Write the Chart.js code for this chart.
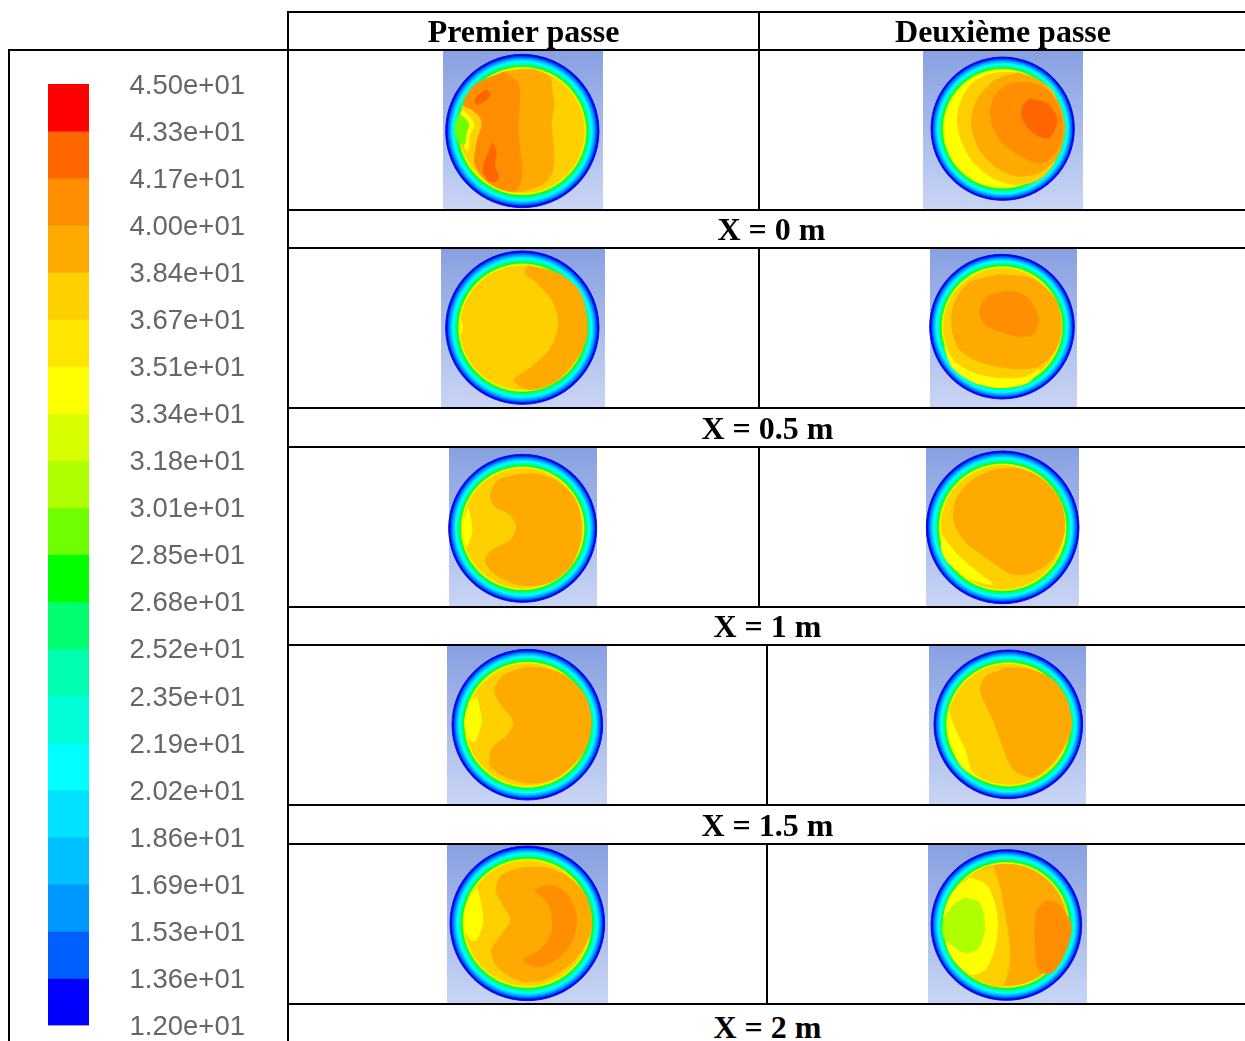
<!DOCTYPE html>
<html lang="fr">
<head>
<meta charset="utf-8">
<title>Contours de température</title>
<script src="https://cdn.jsdelivr.net/npm/chart.js@4"></script>
<style>
  html, body { margin: 0; background: #fff; }
  #page { position: relative; width: 1245px; height: 1041px; overflow: hidden; }
  #page > * { position: absolute; }
  #page > canvas { filter: blur(0.5px); }
  .rule { background: #000; }
  .cap { font: bold 32px "Liberation Serif", serif; color: #000; transform: translate(-50%, -50%); white-space: nowrap; }
  .bg { background: linear-gradient(#87a0e1, #c9d5f5); }
</style>
</head>
<body>
<div id="page"></div>
<script>
// colour scale, top to bottom
const levelValues = [45, 43.35, 41.7, 40.05, 38.4, 36.75, 35.1, 33.45, 31.8, 30.15, 28.5, 26.85, 25.2, 23.55, 21.9, 20.25, 18.6, 16.95, 15.3, 13.65, 12];
const tickLabels = ['4.50e+01', '4.33e+01', '4.17e+01', '4.00e+01', '3.84e+01', '3.67e+01', '3.51e+01', '3.34e+01', '3.18e+01', '3.01e+01', '2.85e+01', '2.68e+01', '2.52e+01', '2.35e+01', '2.19e+01', '2.02e+01', '1.86e+01', '1.69e+01', '1.53e+01', '1.36e+01', '1.20e+01'];
const levelColors = ['#ff0000', '#ff6600', '#ff8f00', '#ffaa00', '#ffd000', '#ffe600', '#ffff00', '#d8ff00', '#b0ff00', '#70ff00', '#00ff00', '#00ff70', '#00ffb0', '#00ffd8', '#00ffff', '#00e0ff', '#00c0ff', '#0098ff', '#0060ff', '#0000ff'];

const headers = ['Premier passe', 'Deuxième passe'];
const rowLabels = ['X = 0 m', 'X = 0.5 m', 'X = 1 m', 'X = 1.5 m', 'X = 2 m'];

// wall rings: fraction of the radius, level index
const ringFractions = [1, 0.975, 0.955, 0.94, 0.925, 0.91, 0.895, 0.88, 0.865, 0.85, 0.84, 0.833, 0.828, 0.823, 0.818, 0.812];
const ringLevels = [19, 18, 17, 16, 15, 14, 13, 12, 11, 10, 9, 8, 7, 6, 5];

// contours per section: [level, points]
const p1Contours = [
  [3, [[205,80],[290,72],[345,95],[352,130],[357,180],[350,240],[358,320],[352,385],[320,420],[240,442],[170,420],[120,360],[125,290],[140,240],[130,210],[85,180],[120,120]]],
  [2, [[205,80],[250,115],[255,180],[250,250],[258,330],[262,390],[240,438],[170,420],[120,360],[125,290],[140,240],[130,210],[85,180],[120,120]]],
  [1, [[120,160],[150,135],[168,145],[155,165],[125,180]]],
  [1, [[172,290],[185,320],[180,360],[192,400],[170,412],[145,385],[148,350],[160,320]]],
  [4, [[82,182],[110,195],[135,225],[125,265],[118,320],[115,370],[95,340],[75,300],[68,240]]],
  [6, [[82,195],[105,215],[118,240],[105,270],[100,320],[85,300],[72,280],[70,230]]],
  [9, [[72,205],[102,235],[95,265],[88,300],[66,285],[60,240]]]
];
const p2Contours = [
  [4, [[290,80],[230,85],[165,120],[130,190],[130,260],[165,340],[225,395],[300,420],[370,405],[420,350],[445,250],[415,140],[350,95]]],
  [3, [[310,82],[240,105],[185,165],[168,235],[190,310],[240,365],[310,395],[380,380],[430,330],[450,250],[430,170],[380,110]]],
  [2, [[345,110],[285,115],[240,150],[225,210],[250,280],[310,330],[380,355],[425,320],[445,260],[430,180],[390,130]]],
  [1, [[345,160],[322,185],[320,220],[355,265],[400,280],[422,250],[425,215],[395,175]]]
];
const p3Contours = [
  [3, [[280,60],[268,85],[300,110],[350,165],[370,235],[345,310],[290,365],[235,405],[285,435],[370,405],[440,320],[458,245],[435,140],[370,85]]],
  [6, [[75,220],[85,245],[75,270]]]
];
const p4Contours = [
  [6, [[85,300],[120,350],[180,385],[260,400],[330,395],[375,372],[345,410],[300,425],[240,428],[170,410],[110,365]]],
  [3, [[250,88],[160,115],[115,180],[110,250],[130,310],[190,350],[290,372],[370,365],[425,310],[440,240],[420,160],[350,100]]],
  [2, [[270,138],[215,155],[193,200],[210,240],[270,265],[320,277],[360,262],[370,215],[345,165],[310,142]]]
];
const p5Contours = [
  [3, [[260,85],[190,105],[165,150],[180,185],[225,210],[243,245],[225,285],[170,315],[150,345],[175,385],[250,420],[340,415],[410,360],[440,270],[425,170],[370,110],[310,88]]],
  [6, [[100,185],[112,255],[95,305],[85,270],[85,230]]]
];
const p6Contours = [
  [3, [[240,72],[170,105],[125,160],[115,225],[150,290],[230,350],[290,388],[350,385],[415,340],[450,255],[435,165],[380,100],[310,70]]],
  [6, [[78,265],[120,320],[175,370],[235,418],[190,412],[150,395],[105,360],[80,320]]]
];
const p7Contours = [
  [3, [[270,75],[205,100],[178,145],[195,185],[235,240],[215,280],[170,320],[165,370],[210,405],[290,425],[370,405],[440,340],[470,250],[450,160],[390,100],[330,78]]],
  [6, [[125,160],[140,235],[120,300],[100,290],[88,240],[100,190]]]
];
const p8Contours = [
  [3, [[270,78],[210,105],[195,145],[235,240],[285,370],[310,395],[360,405],[425,350],[470,260],[455,170],[410,110],[340,80]]],
  [6, [[100,205],[125,270],[150,320],[170,385],[200,415],[140,375],[105,300]]]
];
const p9Contours = [
  [3, [[260,82],[200,105],[182,150],[200,190],[225,240],[190,295],[168,335],[190,385],[260,425],[340,415],[420,360],[470,270],[455,170],[400,110],[330,82]]],
  [2, [[295,150],[345,135],[395,160],[425,225],[415,300],[370,355],[310,382],[265,360],[320,325],[350,270],[345,205],[320,170]]],
  [6, [[128,140],[145,240],[125,300],[105,300],[85,250],[95,190]]]
];
const p10Contours = [
  [4, [[235,78],[170,105],[100,180],[85,255],[105,345],[170,410],[260,440],[285,350],[275,250],[255,140]]],
  [6, [[165,112],[215,135],[245,210],[245,300],[215,385],[170,405],[120,365],[90,300],[85,230],[110,160]]],
  [8, [[150,172],[195,190],[210,265],[190,325],[150,340],[105,312],[85,290],[85,240],[115,195]]],
  [2, [[395,180],[365,210],[358,290],[370,390],[410,400],[450,340],[470,260],[450,215],[420,185]]]
];

// crop origin on the page, backdrop box, circle, core level, contours
const panels = [
  { at: [435, 45], box: [443, 50, 160, 159], circle: [262, 258, 230], core: 4, contours: p1Contours },
  { at: [915, 45], box: [923, 50, 160, 159], circle: [263, 251, 215], core: 6, contours: p2Contours },
  { at: [435, 245], box: [441, 248, 164, 159], circle: [262, 248, 230], core: 4, contours: p3Contours },
  { at: [915, 245], box: [930, 248, 147, 159], circle: [261, 245, 217], core: 4, contours: p4Contours },
  { at: [435, 445], box: [449, 447, 148, 159], circle: [263, 250, 222], core: 4, contours: p5Contours },
  { at: [915, 445], box: [926, 447, 153, 159], circle: [263, 247, 229], core: 4, contours: p6Contours },
  { at: [435, 642], box: [447, 645, 160, 159], circle: [277, 248, 226], core: 4, contours: p7Contours },
  { at: [915, 642], box: [929, 645, 157, 159], circle: [280, 247, 223], core: 4, contours: p8Contours },
  { at: [435, 840], box: [447, 844, 161, 159], circle: [277, 250, 232], core: 4, contours: p9Contours },
  { at: [915, 840], box: [928, 844, 159, 159], circle: [274, 255, 226], core: 3, contours: p10Contours }
];

const page = document.querySelector('#page');

function addBox(className, x, y, w, h) {
  const el = document.createElement('div');
  el.className = className;
  el.style.cssText = `left:${x}px;top:${y}px;width:${w}px;height:${h}px`;
  page.appendChild(el);
}

function addCaption(text, x, y) {
  const el = document.createElement('div');
  el.className = 'cap';
  el.textContent = text;
  el.style.left = x + 'px';
  el.style.top = y + 'px';
  page.appendChild(el);
}

function addCanvas(x, y, w, h) {
  const canvas = document.createElement('canvas');
  canvas.width = w;
  canvas.height = h;
  canvas.style.cssText = `left:${x}px;top:${y}px`;
  page.appendChild(canvas);
  return canvas.getContext('2d');
}

function drawTable() {
  const lines = [
    [288, 11, 957, 2], [8, 49, 1237, 2], [288, 209, 957, 2], [288, 247, 957, 2],
    [288, 407, 957, 2], [288, 446, 957, 2], [288, 606, 957, 2], [288, 644, 957, 2],
    [288, 804, 957, 2], [288, 843, 957, 2], [288, 1003, 957, 2],
    [8, 49, 2, 992], [287, 11, 2, 1030],
    [758, 11, 2, 199], [758, 247, 2, 161], [758, 446, 2, 161],
    [766, 644, 2, 161], [766, 843, 2, 161]
  ];
  lines.forEach(l => addBox('rule', l[0], l[1], l[2], l[3]));
  addCaption(headers[0], 523.5, 31);
  addCaption(headers[1], 1003, 31);
  const labelSpots = [[771.5, 229], [767.5, 428], [767.5, 626], [767.5, 825], [767.5, 1027]];
  rowLabels.forEach((label, i) => addCaption(label, labelSpots[i][0], labelSpots[i][1]));
}

function renderColorBar() {
  // canvas runs a little past the page: the axis keeps half a label free below the bars
  const ctx = addCanvas(48, 60, 197, 985);
  const datasets = levelColors.map((color, i) => ({
    data: [[levelValues[i + 1], levelValues[i]]],
    backgroundColor: color,
    borderWidth: 0,
    grouped: false,
    barPercentage: 1,
    categoryPercentage: 1
  }));
  new Chart(ctx, {
    type: 'bar',
    data: { labels: [''], datasets },
    options: {
      responsive: false,
      animation: false,
      layout: { autoPadding: false, padding: { top: 24, bottom: 12 } },
      plugins: { legend: { display: false }, tooltip: { enabled: false } },
      scales: {
        x: { display: false },
        y: {
          position: 'right',
          min: 12,
          max: 45,
          grid: { display: false },
          border: { display: false },
          afterFit: axis => { axis.width = 156; },
          afterBuildTicks: axis => { axis.ticks = levelValues.map(value => ({ value })); },
          ticks: {
            autoSkip: false,
            crossAlign: 'far',
            labelOffset: 2,
            color: '#666',
            font: { family: '"Liberation Sans", Arial, sans-serif', size: 27.5 },
            callback: (value, i) => tickLabels[i]
          }
        }
      }
    }
  });
}

function renderPanel(panel) {
  addBox('bg', panel.box[0], panel.box[1], panel.box[2], panel.box[3]);
  const ctx = addCanvas(panel.at[0], panel.at[1], 175, 170);
  const [cx, cy, radius] = panel.circle;
  const datasets = [];

  ringLevels.concat(panel.core).forEach((level, i) => {
    datasets.push({
      type: 'bubble',
      data: [{ x: cx, y: cy, r: ringFractions[i] * radius / 3 }],
      backgroundColor: levelColors[level],
      borderColor: '#1414c8',
      borderWidth: i === 0 ? 1 : 0
    });
  });

  panel.contours.forEach(([level, points]) => {
    const closed = points.concat([points[0]]);
    datasets.push({
      type: 'line',
      data: closed.map(p => ({ x: p[0], y: p[1] })),
      backgroundColor: levelColors[level],
      borderWidth: 0,
      pointRadius: 0,
      tension: 0.3,
      fill: 'shape'
    });
  });

  // first entries go underneath
  datasets.forEach((d, i) => { d.order = datasets.length - i; });

  new Chart(ctx, {
    type: 'line',
    data: { datasets },
    options: {
      responsive: false,
      animation: false,
      layout: { autoPadding: false },
      plugins: { legend: { display: false }, tooltip: { enabled: false } },
      scales: {
        x: { type: 'linear', display: false, min: 0, max: 525 },
        y: { type: 'linear', display: false, min: 0, max: 510, reverse: true }
      }
    }
  });
}

renderColorBar();
panels.forEach(renderPanel);
drawTable();
</script>
</body>
</html>
